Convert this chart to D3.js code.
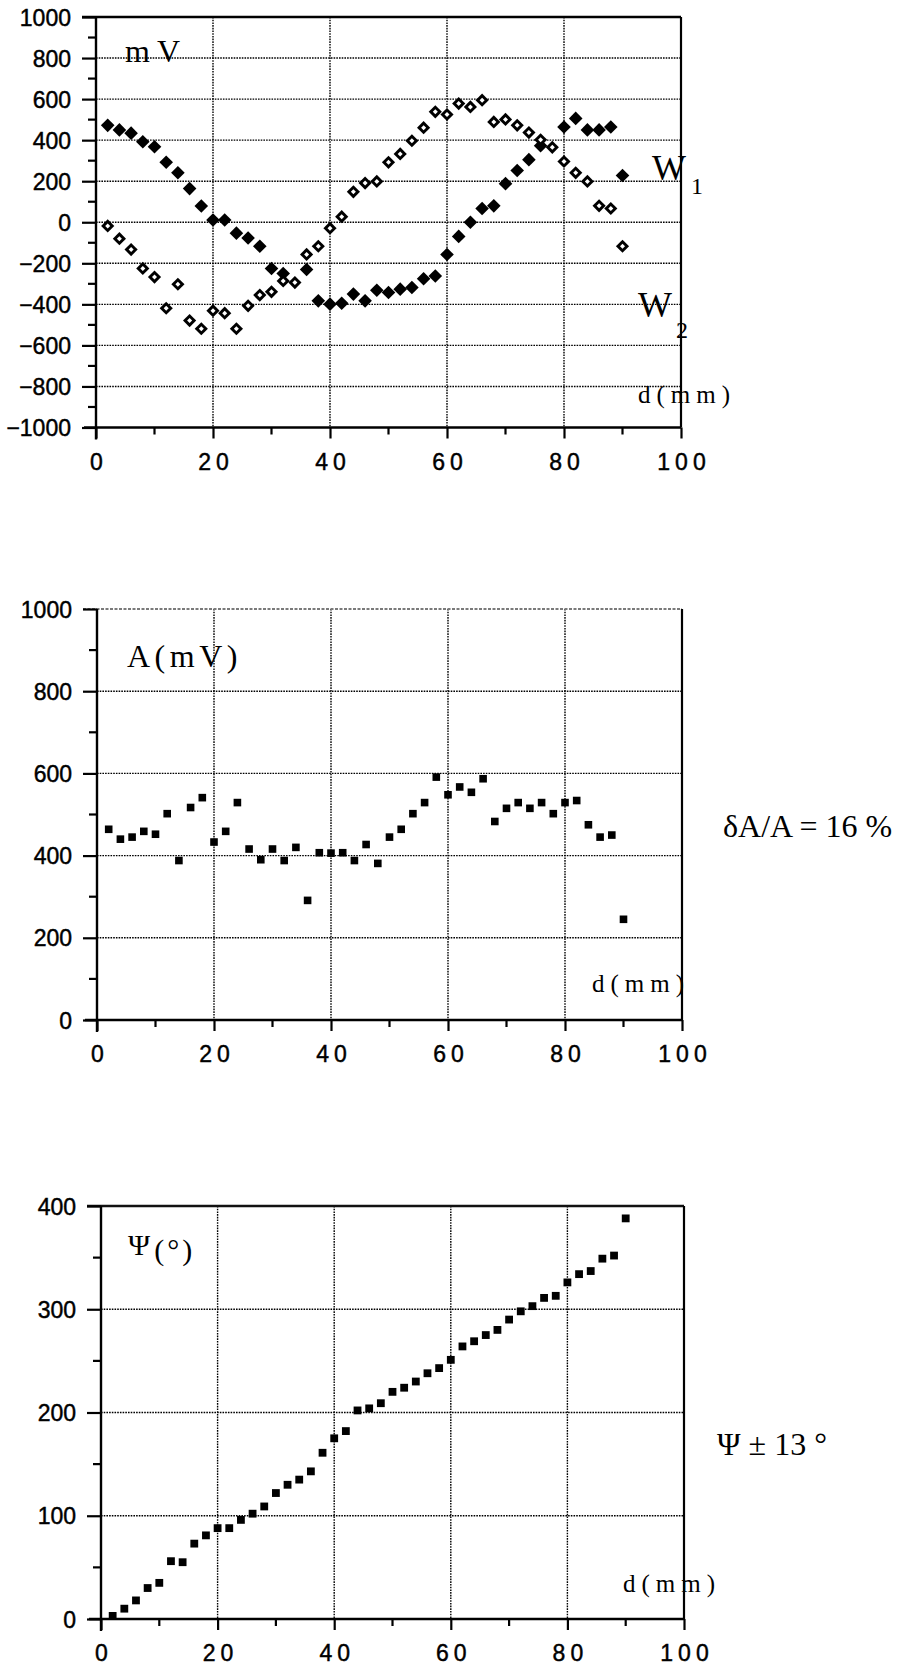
<!DOCTYPE html>
<html>
<head>
<meta charset="utf-8">
<script src="https://cdn.jsdelivr.net/npm/d3@7/dist/d3.min.js"></script>
<style>
  html, body { margin: 0; padding: 0; background: #fff; }
  svg { display: block; }
</style>
</head>
<body>
<svg id="chart" width="901" height="1669"></svg>
<script>
// ---------------- data ----------------
const distance = [2,4,6,8,10,12,14,16,18,20,22,24,26,28,30,32,34,36,38,40,42,44,46,48,50,
                  52,54,56,58,60,62,64,66,68,70,72,74,76,78,80,82,84,86,88,90];

// W1 (filled diamonds), mV ; null = hidden under other markers
const w1 = [472,450,434,392,368,292,241,164,79,11,11,-53,-77,-117,-225,-250,null,-230,-383,-399,
            -395,-350,-383,-331,-342,-326,-318,-275,-262,-157,-69,0,67,80,188,252,305,373,null,464,
            506,450,450,464,228];

// W2 (open diamonds), mV
const w2 = [-18,-80,-133,-225,-267,-419,-302,-479,-519,-431,-443,-519,-407,-355,-339,-286,-294,-157,-117,-29,
            27,148,191,199,292,333,397,461,538,525,578,562,595,489,501,472,437,402,365,296,
            241,199,80,67,-117];

// A (mV)
const amplitude = [464,440,445,459,452,502,388,517,541,433,459,529,416,390,416,388,420,291,407,406,
                   407,388,427,381,445,464,502,529,591,548,567,554,587,483,515,529,515,529,502,529,
                   534,475,445,450,245];

// Psi (degrees)
const phase = [3,10,18,30,35,56,55,73,81,88,88,96,102,109,122,130,135,143,161,175,
               182,202,204,209,220,224,230,238,243,251,264,269,275,280,290,298,303,311,313,326,
               334,337,349,352,388];

const xTicks = [0,20,40,60,80,100];
const xMinorTicks = [10,30,50,70,90];
const yTicksW = [-1000,-800,-600,-400,-200,0,200,400,600,800,1000];
const yMinorW = [-900,-700,-500,-300,-100,100,300,500,700,900];
const yTicksA = [0,200,400,600,800,1000];
const yMinorA = [100,300,500,700,900];
const yTicksP = [0,100,200,300,400];
const yMinorP = [50,150,250,350];

// ---------------- drawing ----------------
const svg = d3.select("#chart");
const SANS = "'Liberation Sans', Arial, Helvetica, sans-serif";
const SERIF = "'Liberation Serif', 'Times New Roman', serif";

function panel(cfg) {
  const x = d3.scaleLinear().domain([0,100]).range([cfg.left, cfg.right]);
  const y = d3.scaleLinear().domain(cfg.yDomain).range([cfg.bottom, cfg.top]);
  const g = svg.append("g");

  // grid
  const grid = g.append("g").attr("stroke", "#000").attr("stroke-width", 1.4)
    .attr("stroke-dasharray", "1.6,1.1").attr("fill", "none");
  grid.selectAll("line.h").data(cfg.yTicks.filter(v => v !== cfg.yDomain[0] && v !== cfg.yDomain[1]))
    .join("line").attr("x1", x(0)).attr("x2", x(100)).attr("y1", d => y(d)).attr("y2", d => y(d));
  grid.selectAll("line.v").data(xTicks.filter(v => v > 0 && v < 100))
    .join("line").attr("x1", d => x(d)).attr("x2", d => x(d)).attr("y1", y(cfg.yDomain[1])).attr("y2", y(cfg.yDomain[0]));

  // labels (under frame)
  cfg.labels(g, x, y);

  // frame
  const top = y(cfg.yDomain[1]), bot = y(cfg.yDomain[0]);
  g.append("line").attr("x1", x(0) - 14).attr("x2", x(100)).attr("y1", top).attr("y2", top)
    .attr("stroke", cfg.topColor).attr("stroke-width", cfg.topWidth)
    .attr("stroke-dasharray", cfg.topDash || null);
  g.append("line").attr("x1", x(100)).attr("x2", x(100)).attr("y1", top).attr("y2", bot)
    .attr("stroke", "#000").attr("stroke-width", 2.2);

  // y axis
  const ya = g.append("g").attr("transform", `translate(${x(0)},0)`);
  ya.call(d3.axisLeft(y).tickValues(cfg.yTicks).tickSize(14).tickFormat(d3.format("d")));
  ya.select(".domain").attr("stroke-width", 2.4).attr("d", `M0,${top}V${bot + 12}`);
  ya.selectAll(".tick line").attr("stroke-width", 2.2);
  ya.selectAll(".tick text").attr("x", -25).attr("font-family", SANS).attr("font-size", 23)
    .attr("fill", "#000").attr("stroke", "#000").attr("stroke-width", 0.45).attr("dy", "0.35em");
  g.append("g").selectAll("line").data(cfg.yMinor).join("line")
    .attr("x1", x(0) - 8).attr("x2", x(0)).attr("y1", d => y(d)).attr("y2", d => y(d))
    .attr("stroke", "#000").attr("stroke-width", 2.2);

  // x axis
  const xa = g.append("g").attr("transform", `translate(0,${bot})`);
  xa.call(d3.axisBottom(x).tickValues(xTicks).tickSize(11).tickFormat(d3.format("d")));
  xa.select(".domain").attr("stroke-width", 2.4).attr("d", `M${x(0) - 12},0H${x(100)}`);
  xa.selectAll(".tick line").attr("stroke-width", 2.2);
  xa.selectAll(".tick text").attr("y", 34).attr("dy", "0.35em").attr("dx", 2.5)
    .attr("font-family", SANS).attr("font-size", 23).attr("letter-spacing", 5)
    .attr("fill", "#000").attr("stroke", "#000").attr("stroke-width", 0.45);
  g.append("g").selectAll("line").data(xMinorTicks).join("line")
    .attr("x1", d => x(d)).attr("x2", d => x(d)).attr("y1", bot).attr("y2", bot + 7)
    .attr("stroke", "#000").attr("stroke-width", 2.2);

  cfg.marks(g, x, y);
}

function diamond(cx, cy, r) {
  return `M${cx},${cy - r}L${cx + r},${cy}L${cx},${cy + r}L${cx - r},${cy}Z`;
}

function dmm(g, xPos, yPos) {
  g.append("text").attr("x", xPos).attr("y", yPos).attr("font-family", SERIF)
    .attr("font-size", 25).attr("letter-spacing", 6).text("d(mm)");
}

// Panel 1 : W1, W2
panel({
  left: 96, right: 681, top: 17, bottom: 427.5,
  yDomain: [-1000, 1000], yTicks: yTicksW, yMinor: yMinorW,
  topColor: "#000", topWidth: 2.6,
  labels: (g) => {
    g.append("text").attr("x", 125).attr("y", 62).attr("font-family", SERIF)
      .attr("font-size", 32).attr("letter-spacing", 7).text("mV");
    g.append("text").attr("x", 652).attr("y", 180).attr("font-family", SERIF).attr("font-size", 36).text("W");
    g.append("text").attr("x", 691).attr("y", 194).attr("font-family", SERIF).attr("font-size", 24).text("1");
    g.append("text").attr("x", 638).attr("y", 317).attr("font-family", SERIF).attr("font-size", 36).text("W");
    g.append("text").attr("x", 676).attr("y", 338).attr("font-family", SERIF).attr("font-size", 24).text("2");
    dmm(g, 638, 403);
  },
  marks: (g, x, y) => {
    const d1 = distance.map((d, i) => [d, w1[i]]).filter(p => p[1] !== null);
    const d2 = distance.map((d, i) => [d, w2[i]]).filter(p => p[1] !== null);
    g.append("g").selectAll("path").data(d1).join("path")
      .attr("d", p => diamond(x(p[0]), y(p[1]), 6.8)).attr("fill", "#000");
    const o = g.append("g");
    o.selectAll("path.out").data(d2).join("path").attr("class", "out")
      .attr("d", p => diamond(x(p[0]), y(p[1]), 6.6)).attr("fill", "#000");
    o.selectAll("path.in").data(d2).join("path").attr("class", "in")
      .attr("d", p => diamond(x(p[0]), y(p[1]), 2.5)).attr("fill", "#fff");
  }
});

// Panel 2 : amplitude
panel({
  left: 97, right: 682, top: 609, bottom: 1020,
  yDomain: [0, 1000], yTicks: yTicksA, yMinor: yMinorA,
  topColor: "#7a7a7a", topWidth: 1.8, topDash: "3,1.5",
  labels: (g) => {
    g.append("text").attr("x", 127).attr("y", 667).attr("font-family", SERIF)
      .attr("font-size", 32).attr("letter-spacing", 4.5).text("A(mV)");
    dmm(g, 592, 992);
    g.append("text").attr("x", 723).attr("y", 837).attr("font-family", SERIF)
      .attr("font-size", 32).text("δA/A = 16 %");
  },
  marks: (g, x, y) => {
    g.append("g").selectAll("rect").data(distance.map((d, i) => [d, amplitude[i]])).join("rect")
      .attr("x", p => x(p[0]) - 3.8).attr("y", p => y(p[1]) - 3.8)
      .attr("width", 7.6).attr("height", 7.6).attr("fill", "#000");
  }
});

// Panel 3 : phase
panel({
  left: 101, right: 684, top: 1206, bottom: 1619,
  yDomain: [0, 400], yTicks: yTicksP, yMinor: yMinorP,
  topColor: "#111", topWidth: 2.4,
  labels: (g) => {
    const t = g.append("text").attr("x", 128).attr("y", 1255).attr("font-family", SERIF).attr("font-size", 30);
    t.append("tspan").text("Ψ");
    t.append("tspan").attr("dx", 4).attr("dy", 5).attr("letter-spacing", 3).text("(°)");
    dmm(g, 623, 1592);
    g.append("text").attr("x", 717).attr("y", 1455).attr("font-family", SERIF)
      .attr("font-size", 32).text("Ψ ± 13 °");
  },
  marks: (g, x, y) => {
    g.append("g").selectAll("rect").data(distance.map((d, i) => [d, phase[i]])).join("rect")
      .attr("x", p => x(p[0]) - 3.9).attr("y", p => y(p[1]) - 3.9)
      .attr("width", 7.8).attr("height", 7.8).attr("fill", "#000");
  }
});
</script>
</body>
</html>
